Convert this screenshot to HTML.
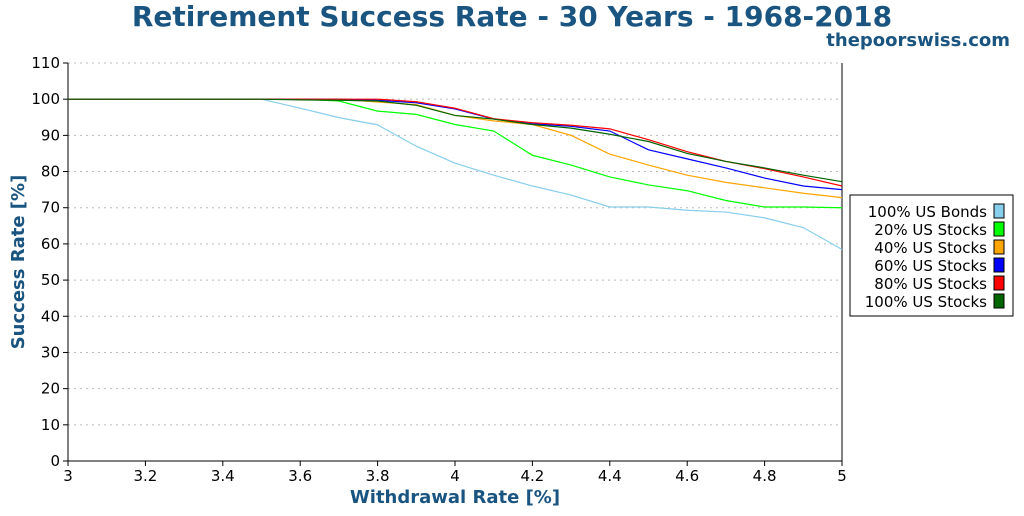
<!DOCTYPE html>
<html><head><meta charset="utf-8"><style>
body{margin:0;background:#fff;font-family:"DejaVu Sans","Liberation Sans",sans-serif}
</style></head><body>
<svg id="chart" width="1024" height="512" xmlns="http://www.w3.org/2000/svg" font-family="DejaVu Sans, Liberation Sans, sans-serif">
<text x="512" y="26" text-anchor="middle" font-size="28" font-weight="bold" fill="#1a5480">Retirement Success Rate - 30 Years - 1968-2018</text>
<text x="1010" y="46" text-anchor="end" font-size="18" font-weight="bold" fill="#1a5480">thepoorswiss.com</text>
<g id="grid"></g><g id="axes"></g><g id="series"></g>
<text x="455" y="503" text-anchor="middle" font-size="18" font-weight="bold" fill="#1a5480">Withdrawal Rate [%]</text>
<text transform="translate(24,262) rotate(-90)" text-anchor="middle" font-size="18" font-weight="bold" fill="#1a5480">Success Rate [%]</text>
<g id="legend"></g>
</svg>
<script>
const xs=[3.0,3.1,3.2,3.3,3.4,3.5,3.6,3.7,3.8,3.9,4.0,4.1,4.2,4.3,4.4,4.5,4.6,4.7,4.8,4.9,5.0];
const bonds=[100,100,100,100,100,100,97.5,94.9,92.9,87,82.3,79,76,73.5,70.2,70.2,69.3,68.8,67.2,64.5,58.5];
const s20=[100,100,100,100,100,100,100,99.5,96.7,95.8,93,91.2,84.5,81.8,78.5,76.3,74.7,72,70.2,70.2,70];
const s40=[100,100,100,100,100,100,100,100,99.2,98.5,95.5,94,93,90,84.8,81.8,79,77,75.5,74,72.8];
const s60=[100,100,100,100,100,100,100,100,99.7,99,97.3,94.5,93.2,92.5,91.2,86,83.5,81,78.2,76,75];
const s80=[100,100,100,100,100,100,100,100,100,99.3,97.5,94.6,93.5,92.8,91.8,88.8,85.5,82.8,80.8,78.5,76];
const s100=[100,100,100,100,100,100,99.8,99.7,99.5,98.3,95.5,94.5,93,92,90.3,88.3,85,82.8,81,79,77.2];
const names=["100% US Bonds","20% US Stocks","40% US Stocks","60% US Stocks","80% US Stocks","100% US Stocks"];
const colors=["#87ceeb","#00ff00","#ffa500","#0000ff","#ff0000","#006400"];
const xTicks=["3","3.2","3.4","3.6","3.8","4","4.2","4.4","4.6","4.8","5"];
const yTicks=[0,10,20,30,40,50,60,70,80,90,100,110];
const L=68,R=842,T=63,B=461;
const X=v=>L+(v-3)/2*(R-L), Y=v=>B-v/110*(B-T);
const NS="http://www.w3.org/2000/svg";
function mk(t,a,p){const e=document.createElementNS(NS,t);for(const k in a)e.setAttribute(k,a[k]);p.appendChild(e);return e;}
const grid=document.getElementById('grid'),axes=document.getElementById('axes');
yTicks.forEach(v=>{
 if(v>0){const g=mk('line',{x1:L,x2:R,y1:Y(v),y2:Y(v),stroke:'#bbb','stroke-dasharray':'2,4'},grid);
 
 }
 mk('line',{x1:L-5,x2:L,y1:Y(v),y2:Y(v),stroke:'#000'},axes);
 const t=mk('text',{x:L-8,y:Y(v)+5,'text-anchor':'end','font-size':'15'},axes);t.textContent=v;
 
 
});
xTicks.forEach(s=>{const v=parseFloat(s);
 mk('line',{x1:X(v),x2:X(v),y1:B,y2:B+5,stroke:'#000'},axes);
 const t=mk('text',{x:X(v),y:B+20,'text-anchor':'middle','font-size':'15'},axes);t.textContent=s;
 
 
});
mk('line',{x1:L,x2:L,y1:T,y2:B,stroke:'#000'},axes);
mk('line',{x1:R,x2:R,y1:T,y2:B,stroke:'#000'},axes);
mk('line',{x1:L,x2:R,y1:B,y2:B,stroke:'#000'},axes);
const series=[bonds,s20,s40,s60,s80,s100];
const sg=document.getElementById('series');
series.forEach((d,i)=>{
 const p=mk('polyline',{points:d.map((v,j)=>X(xs[j])+','+Y(v)).join(' '),fill:'none',stroke:colors[i],'stroke-width':'1.2'},sg);
 
 
});
const lg=document.getElementById('legend');
mk('rect',{x:850,y:195,width:163,height:121,fill:'#fff',stroke:'#000'},lg);
names.forEach((n,i)=>{const y=211+i*18;
 const t=mk('text',{x:987,y:y+6,'text-anchor':'end','font-size':'15'},lg);t.textContent=n;
 
 
 const r=mk('rect',{x:994,y:y-7,width:10,height:14,fill:colors[i],stroke:'#000'},lg);
 
 
});
</script>
</body></html>
